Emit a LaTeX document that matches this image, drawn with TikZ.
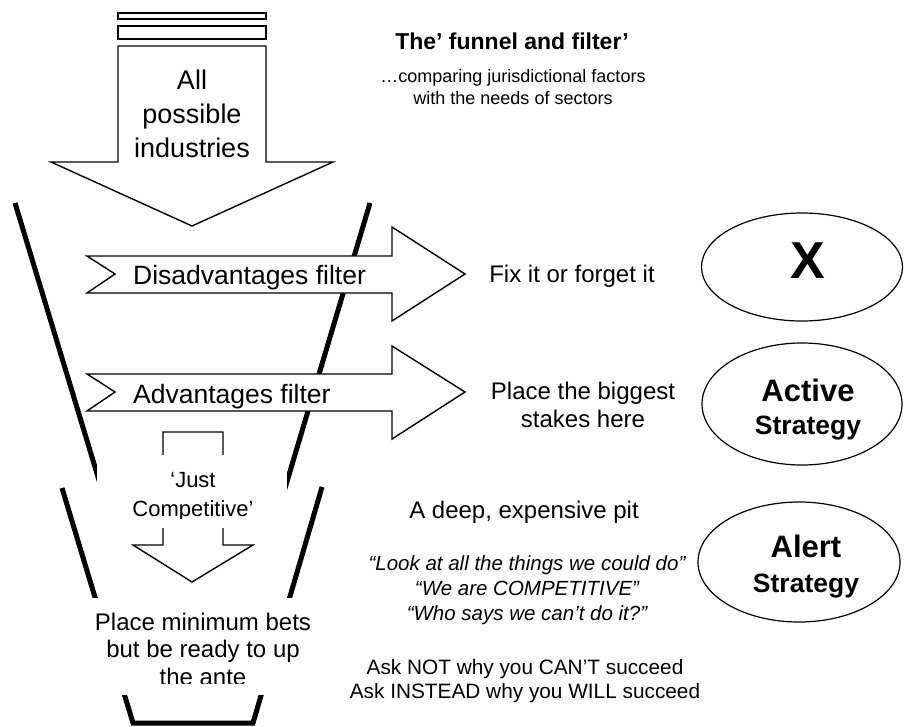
\documentclass[tikz,border=0pt]{standalone}
\usepackage{fontspec}
\setmainfont{Liberation Sans}
\usepackage{tikz}
\usetikzlibrary{shapes.geometric}

\begin{document}
\begin{tikzpicture}[x=1pt,y=-1pt,
    funnel/.style={line width=5pt,line join=miter},
    fatarrow/.style={draw,fill=white,line width=1.4pt,line join=miter},
    oval/.style={ellipse,draw,line width=1.2pt,inner sep=0pt},
    txt/.style={inner sep=0pt,align=center}]
    \useasboundingbox (0,0) rectangle (905,726);

    % Funnel
    \draw[funnel] (15,203) -- (105,500);
    \draw[funnel] (370,203) -- (280,505);
    \draw[funnel] (62,488) -- (133,723) -- (253,723) -- (322,487);

    % Top arrow
    \path[fatarrow] (118,13) rectangle (266,19);
    \path[fatarrow] (118,26) rectangle (266,39);
    \path[fatarrow] (118,162) -- (118,46) -- (266,46) -- (266,162)
        -- (333,162) -- (192,226) -- (51,162) -- cycle;
    \node[txt,font=\fontsize{27}{34}\selectfont] (all) at (192,114) {All\\possible\\industries};

    % Filters
    \path[fatarrow] (87,256) -- (392,256) -- (392,227) -- (465,274)
        -- (392,321) -- (392,293) -- (87,293) -- (115,274) -- cycle;
    \path[fatarrow] (87,374) -- (392,374) -- (392,346) -- (465,392)
        -- (392,439) -- (392,411) -- (87,411) -- (115,392) -- cycle;
    \node[txt,anchor=base west,font=\fontsize{26.5}{30}\selectfont] (disadv) at (133,284) {Disadvantages filter};
    \node[txt,anchor=base west,font=\fontsize{26.5}{30}\selectfont] (adv) at (133,403) {Advantages filter};

    % Just competitive
    \path[fatarrow,fill=none] (163,545) -- (163,432) -- (223,432) -- (223,545)
        -- (253,545) -- (192,582) -- (133,545) -- cycle;
    \fill[white] (97,455) rectangle (287,528);
    \begin{scope}
        \clip (97,455) rectangle (287,518);
        \node[txt,font=\fontsize{22}{29}\selectfont] (just) at (193,497) {‘Just\\Competitive’};
    \end{scope}

    % Pit
    \fill[white] (60,598) rectangle (330,695);
    \begin{scope}
        \clip (60,598) rectangle (330,683);
        \node[txt,font=\fontsize{24}{27.5}\selectfont] (bets) at (203,649) {Place minimum bets\\but be ready to up\\the ante};
    \end{scope}

    % Title
    \node[txt,anchor=base,font=\bfseries\fontsize{23}{26}\selectfont] (title) at (512,49) {The’ funnel and filter’};
    \node[txt,font=\fontsize{18}{22}\selectfont] (sub) at (513,87.5) {…comparing jurisdictional factors\\with the needs of sectors};

    % Comments
    \node[txt,anchor=base,font=\fontsize{24}{28}\selectfont] (fix) at (572,282) {Fix it or forget it};
    \node[txt,font=\fontsize{24}{28}\selectfont] (stakes) at (583,405) {Place the biggest\\stakes here};
    \node[txt,anchor=base,font=\fontsize{24}{28}\selectfont] (pit) at (524,518) {A deep, expensive pit};
    \node[txt,font=\itshape\fontsize{20.5}{25}\selectfont] (quotes) at (527,590) {“Look at all the things we could do”\\“We are COMPETITIVE”\\“Who says we can’t do it?”};
    \node[txt,font=\fontsize{20.8}{24}\selectfont] (ask) at (525,681) {Ask NOT why you CAN’T succeed\\Ask INSTEAD why you WILL succeed};

    % Strategies
    \node[oval,minimum width=201,minimum height=108] (xoval) at (802,267) {};
    \node[oval,minimum width=200,minimum height=122] (active) at (802,404) {};
    \node[oval,minimum width=202,minimum height=120] (alert) at (799,562) {};
    \node[txt,font=\bfseries\fontsize{52}{52}\selectfont] (xmark) at (808,261) {X};
    \node[txt,font=\bfseries\fontsize{31}{33}\selectfont] (activetxt) at (808,410) {Active\\{\fontsize{26.5}{33}\selectfont Strategy}};
    \node[txt,font=\bfseries\fontsize{31}{35}\selectfont] (alerttxt) at (806,567) {Alert\\{\fontsize{26.5}{35}\selectfont Strategy}};
\end{tikzpicture}
\end{document}
